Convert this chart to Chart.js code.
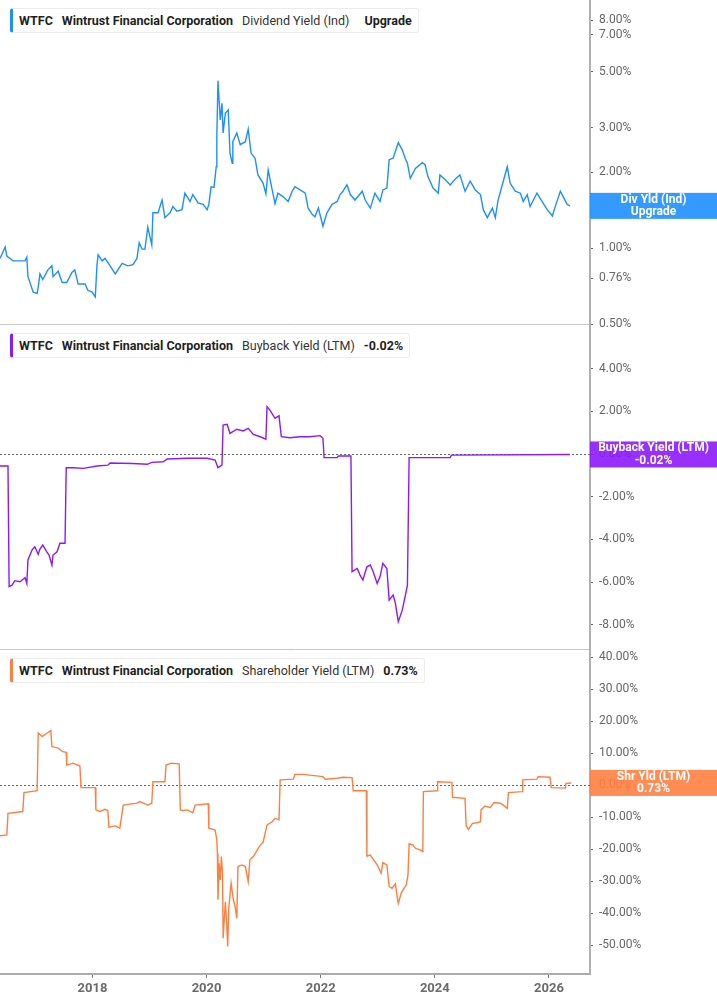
<!DOCTYPE html>
<html lang="en">

<head>
    <meta charset="UTF-8">
    <title>WTFC Yields</title>
    <style>
        body {
            margin: 0;
            width: 717px;
            height: 1005px;
            overflow: hidden;
            background: #fff;
            font-family: Roboto, "Noto Sans", sans-serif;
        }

        .panel {
            position: absolute;
            left: 0;
            width: 717px;
        }

        #panel1 { top: 0; height: 335px; }
        #panel2 { top: 324px; height: 326px; }
        #panel3 { top: 649px; height: 356px; }

        .legend {
            position: absolute;
            left: 10px;
            height: 23px;
            line-height: 23px;
            padding: 0 6px 0 6px;
            background: #fff;
            border: 1px solid #ececec;
            border-left: 3px solid;
            border-radius: 3px;
            font-size: 12.5px;
            color: #1f1f1f;
            white-space: nowrap;
            z-index: 5;
        }

        .legend b { font-weight: 700; margin-right: 9px; }
        .legend span { color: #333; margin-right: 9px; }
        .legend .last { margin-right: 0; }
    </style>
</head>

<body>
    <div id="panel1" class="panel"><canvas></canvas></div>
    <div id="panel2" class="panel"><canvas></canvas></div>
    <div id="panel3" class="panel"><canvas></canvas></div>

    <div class="legend" style="top: 8px; border-left-color: #1e8fff;">
        <b>WTFC</b><b>Wintrust Financial Corporation</b><span style="margin-right: 15px;">Dividend Yield (Ind)</span><b class="last">Upgrade</b>
    </div>
    <div class="legend" style="top: 333px; border-left-color: #8c19fa;">
        <b>WTFC</b><b>Wintrust Financial Corporation</b><span>Buyback Yield (LTM)</span><b class="last">-0.02%</b>
    </div>
    <div class="legend" style="top: 658px; border-left-color: #ff7f42;">
        <b>WTFC</b><b>Wintrust Financial Corporation</b><span>Shareholder Yield (LTM)</span><b class="last">0.73%</b>
    </div>
</body>

</html>
<script src="https://cdn.jsdelivr.net/npm/chart.js"></script>
<script type="text/javascript">
    // x axis range (decimal years) and tick labels
    const xMin = 2016.38;
    const xMax = 2026.72;
    const yearTicks = [2018, 2020, 2022, 2024, 2026];

    const divTicks = [0.5, 0.76, 1, 2, 3, 5, 7, 8];
    const buybackTicks = [-8, -6, -4, -2, 0, 2, 4];
    const shrTicks = [-50, -40, -30, -20, -10, 0, 10, 20, 30, 40];

    // Dividend Yield (Ind), %
    const divYears = [
        2016.38, 2016.47, 2016.50, 2016.61, 2016.82, 2016.85, 2016.87, 2016.96, 2017.03, 2017.05,
        2017.08, 2017.13, 2017.22, 2017.29, 2017.31, 2017.40, 2017.47, 2017.55, 2017.64, 2017.69,
        2017.75, 2017.87, 2017.92, 2017.99, 2018.05, 2018.08, 2018.10, 2018.17, 2018.22, 2018.31,
        2018.40, 2018.52, 2018.62, 2018.71, 2018.78, 2018.82, 2018.87, 2018.92, 2018.97, 2019.04,
        2019.06, 2019.15, 2019.22, 2019.27, 2019.36, 2019.41, 2019.48, 2019.57, 2019.62, 2019.71,
        2019.76, 2019.85, 2019.94, 2020.01, 2020.04, 2020.08, 2020.13, 2020.17, 2020.18, 2020.20,
        2020.24, 2020.27, 2020.29, 2020.33, 2020.38, 2020.41, 2020.45, 2020.46, 2020.53, 2020.59,
        2020.68, 2020.73, 2020.78, 2020.85, 2020.90, 2020.99, 2021.04, 2021.08, 2021.15, 2021.20,
        2021.25, 2021.34, 2021.43, 2021.50, 2021.55, 2021.64, 2021.73, 2021.78, 2021.85, 2021.90,
        2021.96, 2022.04, 2022.11, 2022.20, 2022.29, 2022.34, 2022.39, 2022.46, 2022.52, 2022.60,
        2022.73, 2022.78, 2022.87, 2022.95, 2023.04, 2023.09, 2023.16, 2023.20, 2023.27, 2023.36,
        2023.43, 2023.48, 2023.52, 2023.57, 2023.66, 2023.78, 2023.83, 2023.88, 2023.97, 2024.06,
        2024.09, 2024.18, 2024.27, 2024.36, 2024.44, 2024.53, 2024.62, 2024.71, 2024.80, 2024.85,
        2024.92, 2025.01, 2025.06, 2025.11, 2025.20, 2025.27, 2025.32, 2025.41, 2025.50, 2025.55,
        2025.62, 2025.67, 2025.79, 2025.88, 2025.97, 2026.06, 2026.11, 2026.20, 2026.25, 2026.32,
        2026.37
    ];
    const divYield = [
        0.91, 1.01, 0.93, 0.89, 0.89, 0.92, 0.77, 0.67, 0.66, 0.70,
        0.79, 0.75, 0.82, 0.85, 0.77, 0.81, 0.73, 0.73, 0.80, 0.82,
        0.72, 0.72, 0.68, 0.67, 0.64, 0.86, 0.94, 0.89, 0.91, 0.85,
        0.79, 0.87, 0.85, 0.86, 0.91, 1.05, 0.99, 0.99, 1.21, 1.03,
        1.38, 1.38, 1.55, 1.32, 1.38, 1.46, 1.40, 1.42, 1.65, 1.53,
        1.63, 1.51, 1.49, 1.42, 1.49, 1.75, 1.74, 2.10, 2.77, 4.61,
        3.22, 3.75, 2.86, 3.43, 3.53, 2.38, 2.17, 2.64, 2.86, 2.57,
        2.64, 2.96, 2.38, 2.27, 1.95, 1.81, 1.64, 2.04, 1.70, 1.50,
        1.65, 1.60, 1.53, 1.68, 1.75, 1.70, 1.65, 1.44, 1.36, 1.33,
        1.44, 1.22, 1.38, 1.49, 1.53, 1.63, 1.68, 1.78, 1.63, 1.55,
        1.68, 1.55, 1.44, 1.65, 1.53, 1.70, 1.73, 2.24, 2.27, 2.62,
        2.45, 2.27, 2.17, 1.89, 2.07, 2.18, 2.14, 1.92, 1.73, 1.65,
        1.95, 1.87, 1.78, 1.88, 1.95, 1.68, 1.84, 1.70, 1.63, 1.42,
        1.32, 1.44, 1.32, 1.55, 1.84, 2.10, 1.81, 1.68, 1.65, 1.53,
        1.63, 1.46, 1.65, 1.53, 1.42, 1.34, 1.46, 1.68, 1.60, 1.49,
        1.47
    ];

    // Buyback Yield (LTM), %
    const buybackYears = [
        2016.38, 2016.52, 2016.54, 2016.59, 2016.64, 2016.73, 2016.82, 2016.85, 2016.87, 2016.94,
        2016.99, 2017.05, 2017.08, 2017.13, 2017.20, 2017.24, 2017.29, 2017.31, 2017.38, 2017.43,
        2017.52, 2017.54, 2017.66, 2017.84, 2018.08, 2018.27, 2018.31, 2018.71, 2018.96, 2019.04,
        2019.24, 2019.31, 2019.66, 2020.01, 2020.15, 2020.20, 2020.27, 2020.29, 2020.36, 2020.41,
        2020.53, 2020.64, 2020.73, 2020.82, 2020.94, 2021.04, 2021.06, 2021.11, 2021.20, 2021.27,
        2021.31, 2021.46, 2021.64, 2021.81, 2021.99, 2022.04, 2022.06, 2022.29, 2022.31, 2022.53,
        2022.55, 2022.64, 2022.69, 2022.74, 2022.81, 2022.87, 2022.92, 2022.99, 2023.04, 2023.09,
        2023.16, 2023.20, 2023.27, 2023.31, 2023.36, 2023.43, 2023.48, 2023.52, 2023.55, 2024.27,
        2024.29, 2026.37
    ];
    const buybackYield = [
        -0.56, -0.56, -6.21, -6.14, -5.93, -5.98, -5.79, -6.06, -4.96, -4.50,
        -4.34, -4.70, -4.45, -4.26, -4.58, -4.73, -5.20, -4.73, -4.58, -4.18,
        -4.18, -0.64, -0.64, -0.67, -0.56, -0.52, -0.42, -0.44, -0.48, -0.39,
        -0.36, -0.23, -0.20, -0.20, -0.28, -0.64, -0.52, 1.36, 1.39, 0.97,
        1.16, 1.08, 1.20, 0.92, 0.81, 0.70, 2.22, 2.06, 1.67, 1.79,
        0.81, 0.76, 0.81, 0.81, 0.86, 0.74, -0.17, -0.17, -0.09, -0.09,
        -5.51, -5.36, -5.67, -5.90, -5.28, -5.20, -5.51, -6.06, -5.75, -5.12,
        -5.36, -6.84, -6.60, -6.99, -7.85, -7.31, -6.68, -6.14, -0.17, -0.17,
        -0.05, -0.02
    ];

    // Shareholder Yield (LTM), %
    const shrYears = [
        2016.38, 2016.50, 2016.52, 2016.78, 2016.80, 2017.03, 2017.05, 2017.12, 2017.20, 2017.27,
        2017.29, 2017.40, 2017.48, 2017.54, 2017.55, 2017.66, 2017.78, 2017.80, 2018.05, 2018.06,
        2018.13, 2018.22, 2018.27, 2018.29, 2018.40, 2018.48, 2018.54, 2018.78, 2018.83, 2018.97,
        2019.04, 2019.06, 2019.27, 2019.29, 2019.38, 2019.52, 2019.54, 2019.59, 2019.66, 2019.76,
        2019.80, 2020.03, 2020.04, 2020.15, 2020.18, 2020.19, 2020.20, 2020.22, 2020.24, 2020.26,
        2020.28, 2020.29, 2020.33, 2020.35, 2020.37, 2020.39, 2020.43, 2020.47, 2020.50, 2020.53,
        2020.55, 2020.62, 2020.68, 2020.73, 2020.76, 2020.82, 2020.89, 2020.94, 2020.99, 2021.06,
        2021.15, 2021.20, 2021.27, 2021.29, 2021.52, 2021.55, 2021.69, 2022.04, 2022.08, 2022.29,
        2022.39, 2022.55, 2022.57, 2022.80, 2022.81, 2022.87, 2022.92, 2022.99, 2023.06, 2023.09,
        2023.16, 2023.20, 2023.25, 2023.31, 2023.34, 2023.36, 2023.41, 2023.45, 2023.50, 2023.53,
        2023.55, 2023.62, 2023.66, 2023.74, 2023.79, 2023.80, 2024.04, 2024.05, 2024.30, 2024.31,
        2024.53, 2024.55, 2024.59, 2024.66, 2024.74, 2024.80, 2024.81, 2024.88, 2024.97, 2025.04,
        2025.15, 2025.20, 2025.27, 2025.29, 2025.53, 2025.54, 2025.79, 2025.81, 2026.02, 2026.04,
        2026.29, 2026.30, 2026.39
    ];
    const shrYield = [
        -15.8, -15.5, -8.75, -8.2, -2.3, -1.7, 16.4, 15.2, 16.25, 17.1,
        12.1, 11.6, 10.5, 10.3, 6.3, 6.9, 6.0, -0.75, -0.75, -7.7,
        -8.2, -7.5, -7.9, -13.1, -12.7, -13.4, -6.2, -5.6, -5.1, -6.2,
        -5.6, 1.1, 1.1, 6.3, 6.9, 6.7, -7.7, -7.9, -7.7, -8.6,
        -6.2, -5.8, -13.4, -14.0, -17.1, -21.3, -35.8, -24.4, -29.6, -22.3,
        -27.5, -47.8, -36.4, -42.1, -50.4, -38.4, -30.6, -35.8, -37.9, -41.6,
        -25.4, -24.9, -25.4, -30.1, -23.3, -22.3, -20.2, -18.7, -17.9, -12.4,
        -11.4, -10.3, -10.8, 1.7, 1.9, 3.4, 3.4, 2.7, 1.9, 2.2,
        2.5, 2.4, -1.7, -1.7, -22.1, -21.8, -23.1, -24.9, -27.5, -24.2,
        -24.9, -31.7, -32.2, -30.8, -34.8, -36.9, -33.8, -32.5, -31.2, -28.0,
        -18.3, -18.7, -19.7, -20.2, -20.7, -2.0, -1.7, 1.1, 0.9, -3.75,
        -4.1, -12.7, -13.8, -11.9, -11.7, -11.4, -7.7, -6.5, -6.9, -5.4,
        -5.6, -6.2, -7.2, -2.3, -2.0, 1.7, 1.9, 2.7, 2.5, -0.75,
        -0.9, 0.6, 0.73
    ];

    // dotted line at 0 %
    const zeroLinePlugin = {
        id: 'zeroLine',
        beforeDatasetsDraw(chart) {
            const ctx = chart.ctx;
            const area = chart.chartArea;
            const y = Math.round(chart.scales.y.getPixelForValue(0)) + 0.5;
            ctx.save();
            ctx.strokeStyle = '#666';
            ctx.lineWidth = 1;
            ctx.setLineDash([2, 2]);
            ctx.beginPath();
            ctx.moveTo(area.left, y);
            ctx.lineTo(area.right, y);
            ctx.stroke();
            ctx.restore();
        }
    };

    // coloured last-value tag over the right axis
    const tagPlugin = {
        id: 'tag',
        afterDraw(chart, args, opts) {
            const ctx = chart.ctx;
            const data = chart.data.datasets[0].data;
            const last = data[data.length - 1];
            const y = chart.scales.y.getPixelForValue(last.y);
            const x0 = chart.chartArea.right;
            const w = chart.width - x0;
            const h = 26;
            ctx.save();
            ctx.globalAlpha = 0.9;
            ctx.fillStyle = opts.color;
            ctx.fillRect(x0, y - h / 2, w, h);
            ctx.globalAlpha = 1;
            ctx.fillStyle = '#fff';
            ctx.font = 'bold 12px Roboto';
            ctx.textAlign = 'center';
            ctx.textBaseline = 'middle';
            ctx.fillText(opts.lines[0], x0 + w / 2, y - 6);
            ctx.fillText(opts.lines[1], x0 + w / 2, y + 6.5);
            ctx.restore();
        }
    };

    function toPoints(xs, ys) {
        return xs.map((x, i) => ({ x: x, y: ys[i] }));
    }

    function xAxis(showLabels, height) {
        return {
            type: 'linear',
            min: xMin,
            max: xMax,
            afterBuildTicks: s => { s.ticks = yearTicks.map(v => ({ value: v })); },
            afterFit: s => { s.height = height; s.paddingLeft = 0; s.paddingRight = 0; },
            grid: { drawOnChartArea: false, drawTicks: showLabels, tickLength: 4, tickColor: '#777' },
            border: { color: showLabels ? '#aaa' : '#c8c8c8', width: showLabels ? 2 : 1 },
            ticks: {
                display: showLabels,
                autoSkip: false,
                maxRotation: 0,
                padding: 3,
                color: '#6b6b6b',
                font: { family: 'Roboto', size: 13, weight: 'bold' },
                callback: v => String(v)
            }
        };
    }

    function yAxis(type, min, max, ticks) {
        return {
            type: type,
            position: 'right',
            min: min,
            max: max,
            afterBuildTicks: s => { s.ticks = ticks.map(v => ({ value: v })); },
            afterFit: s => { s.width = 127; s.paddingTop = 0; s.paddingBottom = 0; },
            grid: { drawOnChartArea: false, tickLength: 3, tickColor: '#666' },
            border: { color: '#b0b0b0', width: 2 },
            ticks: {
                autoSkip: false,
                padding: 6,
                color: '#666',
                font: { family: 'Roboto', size: 12 },
                callback: v => Number(v).toFixed(2) + '%'
            }
        };
    }

    function initPanel(id, points, color, x, y, tagLines, plugins) {
        const ctx = document.querySelector('#' + id + ' canvas').getContext('2d');
        return new Chart(ctx, {
            type: 'line',
            data: {
                datasets: [{
                    data: points,
                    borderColor: color,
                    borderWidth: 1.4,
                    pointRadius: 0,
                    tension: 0,
                    fill: false
                }]
            },
            options: {
                animation: false,
                responsive: true,
                maintainAspectRatio: false,
                events: [],
                layout: { padding: 0 },
                plugins: {
                    legend: { display: false },
                    tooltip: { enabled: false },
                    tag: { color: color, lines: tagLines }
                },
                scales: { x: x, y: y }
            },
            plugins: plugins
        });
    }

    initPanel('panel1', toPoints(divYears, divYield), '#1e8fff',
        xAxis(false, 11), yAxis('logarithmic', 0.5, 9.625, divTicks),
        ['Div Yld (Ind)', 'Upgrade'], [tagPlugin]);

    initPanel('panel2', toPoints(buybackYears, buybackYield), '#8c19fa',
        xAxis(false, 1), yAxis('linear', -9.13, 6.09, buybackTicks),
        ['Buyback Yield (LTM)', '-0.02%'], [zeroLinePlugin, tagPlugin]);

    initPanel('panel3', toPoints(shrYears, shrYield), '#ff7f42',
        xAxis(true, 31), yAxis('linear', -59, 42.6, shrTicks),
        ['Shr Yld (LTM)', '0.73%'], [zeroLinePlugin, tagPlugin]);
</script>
